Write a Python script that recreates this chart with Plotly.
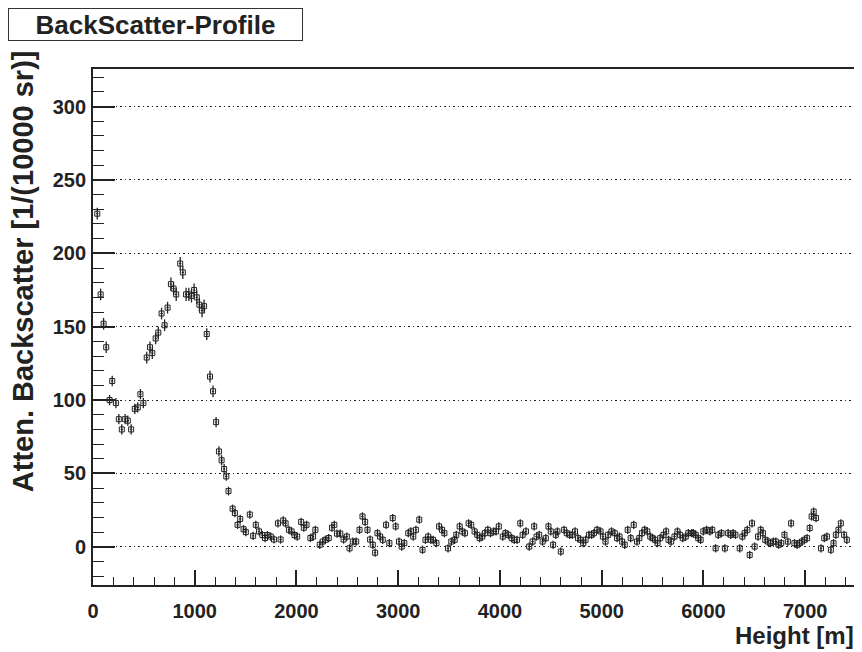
import plotly.graph_objects as go

# ---- data: near field (strong aerosol layer) ----
heights_near = [42, 75, 104, 130, 163, 189, 225, 254, 283, 316, 342, 375, 411, 440, 466, 495,
                528, 560, 583, 616, 642, 674, 704, 733, 766, 792, 818, 857, 883, 915, 942, 968,
                994, 1020, 1046, 1072, 1092, 1118, 1150, 1180, 1210, 1238, 1264, 1289, 1310, 1332]
values_near = [227, 172, 152, 136, 100, 113, 98, 87, 80, 87, 86, 80, 94, 95, 104, 98,
               129, 136, 132, 142, 146, 159, 151, 163, 179, 176, 172, 193, 187, 172, 172, 171,
               175, 170, 165, 161, 164, 145, 116, 106, 85, 65, 59, 53, 48, 38]
err_near = [4, 4, 4, 4, 3.5, 3.5, 3.5, 3.5, 3.5, 3.5, 3.5, 3.5, 3.5, 3.5, 3.5, 3.5,
            4, 4, 4, 4, 4, 4, 4, 4, 4.5, 4.5, 4.5, 4.5, 4.5, 4.5, 4.5, 4.5,
            4.5, 4.5, 4.5, 4.5, 4.5, 4, 4, 4, 3.5, 3.5, 3.5, 3.5, 3, 3]

# ---- data: far field ----
heights_far = [1372, 1395, 1421, 1447, 1480, 1502, 1541, 1574, 1600, 1632, 1665, 1691, 1714, 1747,
               1779, 1818, 1844, 1870, 1893, 1926, 1952, 1981, 2007, 2046, 2072, 2099, 2137, 2163,
               2186, 2229, 2258, 2284, 2317, 2349, 2372, 2398, 2431, 2463, 2495, 2522, 2554, 2587,
               2620, 2649, 2675, 2698, 2724, 2750, 2773,
               2796, 2822, 2848, 2881, 2913, 2946, 2975, 3008, 3034, 3060, 3099, 3125, 3148, 3174,
               3207, 3239, 3268, 3295, 3321, 3343, 3376, 3402, 3431, 3454, 3490, 3522, 3555, 3571,
               3604, 3630, 3656, 3692, 3718, 3751, 3777, 3800, 3826, 3852, 3881, 3907, 3937, 3962,
               3989, 4028, 4054, 4083, 4116, 4142, 4168, 4200, 4223, 4256, 4288, 4321,
               4337, 4360, 4386, 4419, 4451, 4477, 4500, 4523, 4549, 4565, 4598, 4631, 4657, 4686,
               4712, 4738, 4767, 4793, 4819, 4842, 4875, 4901, 4924, 4956, 4989, 5012, 5038, 5064,
               5097, 5129, 5152, 5175, 5201, 5227, 5256, 5285, 5315, 5347, 5370, 5396, 5422, 5448,
               5478, 5500, 5526, 5549, 5575, 5608, 5634, 5657, 5683, 5716, 5745, 5771, 5797, 5826,
               5852, 5885,
               5901, 5924, 5950, 5973, 5999, 6032, 6064, 6087, 6120, 6146, 6178, 6211, 6243, 6269,
               6292, 6315, 6357, 6383, 6406, 6432, 6455, 6478, 6504, 6537, 6563, 6585, 6608, 6634,
               6660, 6686, 6712, 6739, 6765, 6797, 6830, 6862, 6895, 6921, 6944, 6970, 6993, 7019,
               7045, 7064, 7084, 7107, 7156, 7188, 7214, 7253, 7279, 7302, 7328, 7351, 7383, 7410]
values_far = [26, 23, 15, 19, 12, 10, 22, 7.5, 15, 10.5, 8, 6, 8, 7,
              5, 16, 5, 18, 16, 11.6, 10.5, 8, 7, 17, 13, 15, 6, 7,
              11.6, 1.4, 3.6, 4.8, 6, 13, 15, 9, 9, 5, 7, -1, 3.6, 3.6,
              11.6, 20.7, 17, 11.6, 5, 1.4, -4,
              9.3, 7, 4.8, 15, 2.5, 19.6, 13.9, 3.6, 0.2, 2.5, 9.3, 10.5, 7, 11.6,
              18.5, -2, 4.8, 7, 4.8, 4.8, 2.5, 13.9, 11.6, 9.3, -1, 3.6, 4.8, 8.2,
              13.9, 10.5, 9.3, 16, 15, 10.5, 8.2, 5.9, 7, 9.3, 11.6, 9.3, 10.5, 10.5,
              13.9, 7, 9.3, 8.2, 5.9, 4.8, 4.8, 16, 8.2, 10.5, 0.2, 3.6,
              13.9, 7, 8.2, 3.6, 5.9, 13.9, 10.5, 1.4, 8.2, 10.5, -3.2, 11.6, 9.3, 8.2,
              8.2, 10.5, 5.9, 4.8, 2.5, 4.8, 8.2, 8.2, 9.3, 11.6, 10.5, 7, 3.6, 8.2,
              10.5, 9.3, 5.9, 7, 3.6, 1.4, 11.6, 5.9, 15, 3.6, 5.9, 9.3, 11.6, 10.5,
              7, 5.9, 4.8, 2.5, 5.9, 8.2, 10.5, 4.8, 3.6, 7, 10.5, 8.2, 5.9, 7,
              9.3, 9.3,
              9.3, 8.2, 5.9, 4.8, 10.5, 11.6, 10.5, 11.6, -1, 8.2, 9.3, -1, 9.3, 8.2,
              9.3, 8.2, -1, 7, 9.3, 11.6, -5.5, 16, 0.2, 7, 11.6, 9.3, 4.8, 3.6,
              2.5, 3.6, 3.6, 1.4, 2.5, 8.2, 3.6, 16, 2.5, 1.4, 2.5, 3.6, 4.8, 5.9,
              12.8, 20.7, 24, 19.6, -1, 5.9, 7, -2, 2.5, 8.2, 11.6, 16, 8.2, 4.8]
err_far = 2.8

heights = heights_near + heights_far
values = values_near + values_far
errors = err_near + [err_far] * len(values_far)

x_ticks = [0, 1000, 2000, 3000, 4000, 5000, 6000, 7000]
y_ticks = [0, 50, 100, 150, 200, 250, 300]

FONT = "Liberation Sans, Arial, Helvetica, sans-serif"
INK = "#222222"

# figure geometry (page body adds an 8 px offset)
W, H = 854, 644
ML, MR, MT, MB = 85, 4, 61, 67
PW, PH = W - ML - MR, H - MT - MB

fig = go.Figure()
fig.add_trace(go.Scatter(
    x=heights, y=values, mode="markers",
    marker=dict(symbol="square-open", size=5, color=INK, line=dict(width=1, color=INK)),
    error_y=dict(type="data", array=errors, visible=True, color=INK, thickness=1.3, width=0),
    error_x=dict(type="constant", value=12, visible=True, color=INK, thickness=1, width=0),
    showlegend=False,
))

fig.update_layout(
    width=W, height=H,
    paper_bgcolor="white", plot_bgcolor="white",
    margin=dict(l=ML, r=MR, t=MT, b=MB),
    font=dict(family=FONT, color="black"),
    xaxis=dict(
        range=[0, 7500], tickvals=x_ticks, ticktext=[str(v) for v in x_ticks],
        ticks="inside", ticklen=15, tickwidth=1.5, tickcolor="#222",
        minor=dict(ticks="inside", ticklen=8, dtick=200, tick0=0, tickcolor="#222", tickwidth=1.3, showgrid=False),
        showline=True, linecolor="#222", linewidth=1.8, mirror=True,
        showgrid=False, zeroline=False,
        tickfont=dict(family=FONT, size=20, weight="bold", color="#222"),
        ticklabelstandoff=7,
    ),
    yaxis=dict(
        range=[-26, 325.6], tickvals=y_ticks, ticktext=[str(v) for v in y_ticks],
        ticks="inside", ticklen=22, tickwidth=1.5, tickcolor="#222",
        minor=dict(ticks="inside", ticklen=11, dtick=10, tick0=0, tickcolor="#222", tickwidth=1.3, showgrid=False),
        showline=True, linecolor="#222", linewidth=1.8, mirror=True,
        showgrid=True, gridcolor="#222", griddash="1.5px,3px", gridwidth=1.2,
        zeroline=False,
        tickfont=dict(family=FONT, size=20, weight="bold", color="#222"),
        ticklabelstandoff=1,
    ),
)

# title box
fig.add_annotation(
    text="<b>BackScatter-Profile</b>", xref="paper", yref="paper",
    x=(0 - ML) / PW, y=1 + MT / PH, xanchor="left", yanchor="top",
    showarrow=False, font=dict(family=FONT, size=26, color="#222"),
    bordercolor="#333", borderwidth=1, bgcolor="white", width=291, height=29,
    align="center",
)
# x axis title
fig.add_annotation(
    text="<b>Height [m]</b>", xref="paper", yref="paper",
    x=1, y=-(627 - (H - MB)) / PH, xanchor="right", yanchor="middle",
    showarrow=False, font=dict(family=FONT, size=24, color="#222"),
)
# y axis title
fig.add_annotation(
    text="<b>Atten. Backscatter [1/(10000 sr)]</b>", xref="paper", yref="paper",
    x=(15 - ML) / PW, y=1 + (MT - 40) / PH, xanchor="center", yanchor="top", textangle=-90,
    showarrow=False, font=dict(family=FONT, size=29, color="#222"),
)

fig.write_html("out.html")
